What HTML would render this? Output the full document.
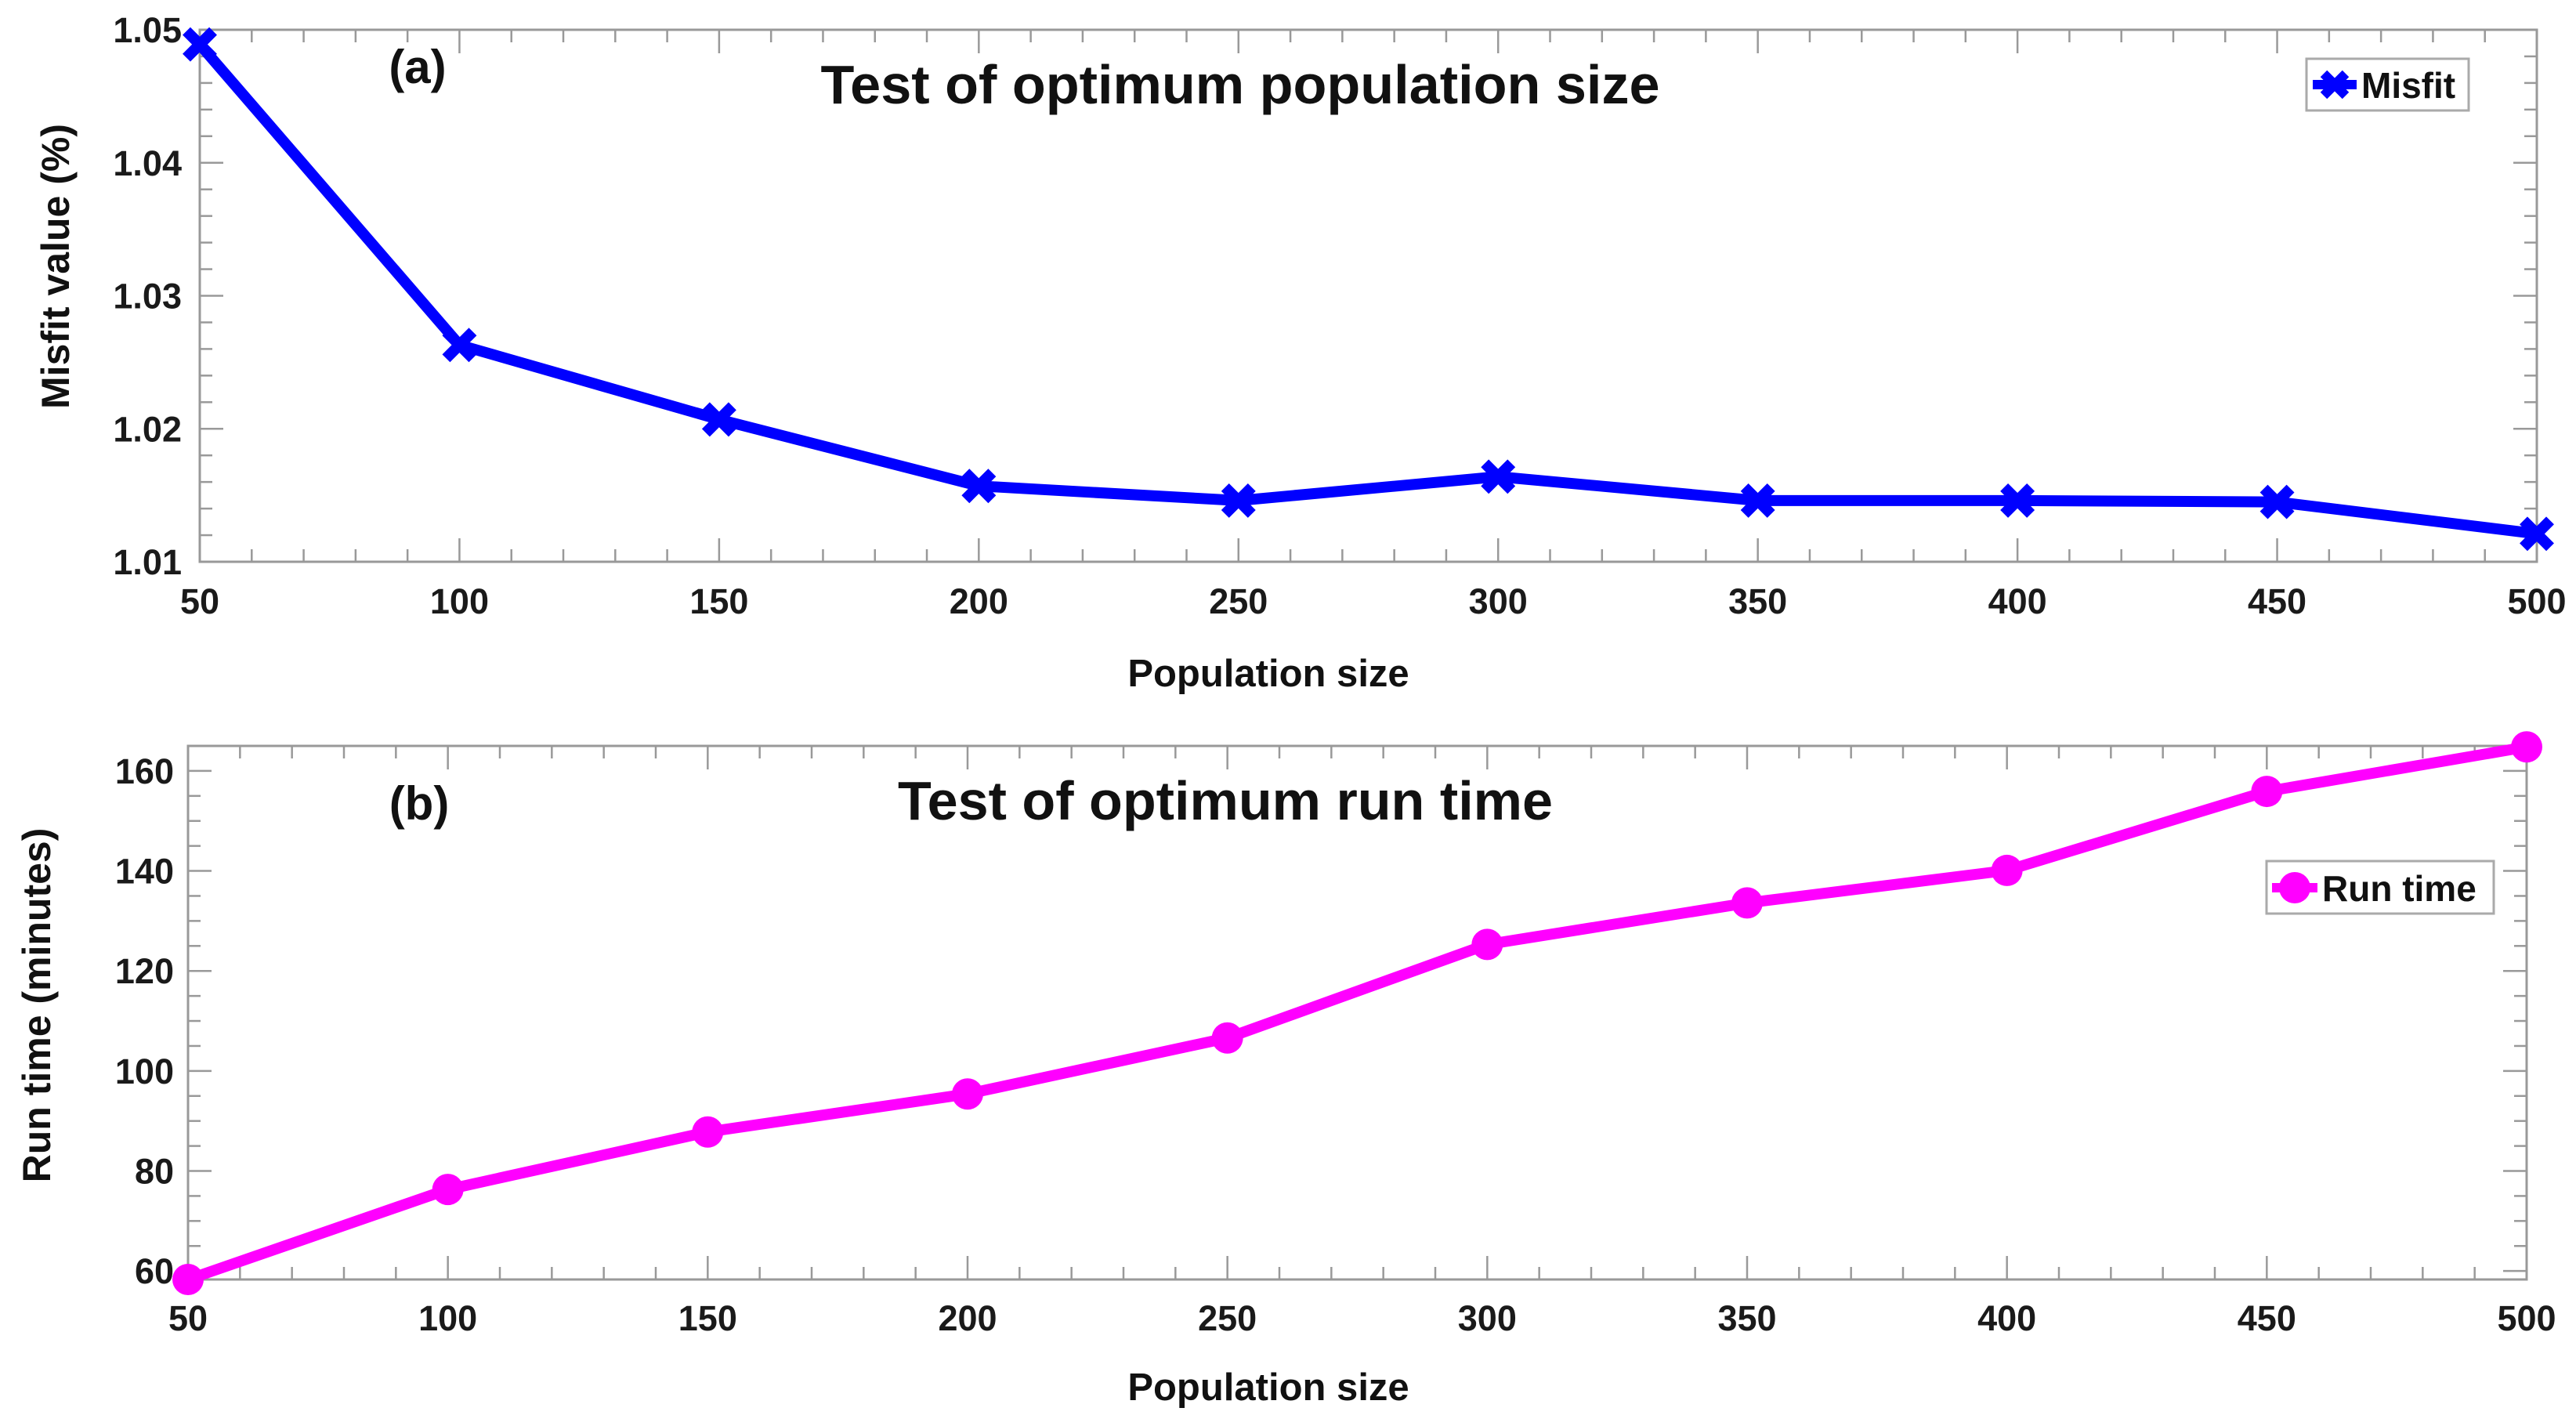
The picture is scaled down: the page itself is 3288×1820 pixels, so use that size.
<!DOCTYPE html>
<html><head><meta charset="utf-8"><style>
html,body{margin:0;padding:0;background:#fff;}
svg{display:block;font-family:"Liberation Sans",Arial,sans-serif;font-weight:bold;}
</style></head><body>
<svg id="fig" width="3288" height="1820" viewBox="0 0 3288 1820">
<g id="pa"></g>
<g id="pb"></g>
</svg>
<script>
const xCats = [50,100,150,200,250,300,350,400,450,500];
const misfitValues = [1.0489,1.0263,1.0207,1.0157,1.0146,1.0164,1.0146,1.0146,1.0145,1.0121];
const runTimeValues = [58.3,76.3,87.8,95.4,106.6,125.3,133.6,140.1,155.9,164.8];
const xTickLabels = ["50","100","150","200","250","300","350","400","450","500"];
const misfitTickLabels = ["1.01","1.02","1.03","1.04","1.05"];
const runTickLabels = ["60","80","100","120","140","160"];

const NS="http://www.w3.org/2000/svg";
function mk(parent,tag,attrs,text){const e=document.createElementNS(NS,tag);for(const k in attrs)e.setAttribute(k,attrs[k]);if(text!==undefined)e.textContent=text;parent.appendChild(e);return e;}

function panel(g, cfg){
  const {L,R,T,B,ymin,ymax,yTicks,yLabels,yMinorStep,vals,color,marker} = cfg;
  const xs = v => L + (v-50)/(500-50)*(R-L);
  const ys = v => B - (v-ymin)/(ymax-ymin)*(B-T);
  const ax = mk(g,'g',{});
  
  
  mk(ax,'rect',{x:L,y:T,width:R-L,height:B-T,fill:'none',stroke:'#999','stroke-width':3});
  for(let v=50;v<=500;v+=10){
    const major=(v%50===0); const len=major?30:16; const x=xs(v);
    mk(ax,'line',{x1:x,y1:B,x2:x,y2:B-len,stroke:'#999','stroke-width':2.5});
    mk(ax,'line',{x1:x,y1:T,x2:x,y2:T+len,stroke:'#999','stroke-width':2.5});
  }
  const y0=Math.ceil(ymin/yMinorStep-1e-6)*yMinorStep;
  for(let v=y0; v<=ymax+1e-9; v+=yMinorStep){
    const y=ys(v);
    const major=yTicks.some(t=>Math.abs(t-v)<yMinorStep/10); const len=major?30:16;
    mk(ax,'line',{x1:L,y1:y,x2:L+len,y2:y,stroke:'#999','stroke-width':2.5});
    mk(ax,'line',{x1:R,y1:y,x2:R-len,y2:y,stroke:'#999','stroke-width':2.5});
  }
  xTickLabels.forEach((s,i)=>{
    const t=mk(g,'text',{x:xs(xCats[i]),y:cfg.xLabY,'text-anchor':'middle','font-size':45,fill:'#1a1a1a'},s);
    
    
  });
  yLabels.forEach((s,i)=>{
    const t=mk(g,'text',{x:cfg.yLabX,y:ys(yTicks[i])+16,'text-anchor':'end','font-size':45,fill:'#1a1a1a'},s);
    
    
  });
  const pts = vals.map((v,i)=>xs(xCats[i])+','+ys(v)).join(' ');
  const pl = mk(g,'polyline',{points:pts,fill:'none',stroke:color,'stroke-width':14,'stroke-linejoin':'round'});
  
  
  vals.forEach((v,i)=>{
    const x=xs(xCats[i]), y=ys(v);
    let m;
    if(marker==='x'){
      m=mk(g,'path',{d:`M${x-17},${y-17}L${x+17},${y+17}M${x-17},${y+17}L${x+17},${y-17}`,stroke:color,'stroke-width':14,fill:'none'});
    } else {
      m=mk(g,'circle',{cx:x,cy:y,r:20,fill:color});
    }
    
    
  });
  return {xs,ys};
}

const ga=document.getElementById('pa');
panel(ga,{L:255,R:3238,T:38,B:717,ymin:1.01,ymax:1.05,yTicks:[1.01,1.02,1.03,1.04,1.05],yLabels:misfitTickLabels,yMinorStep:0.002,vals:misfitValues,color:'#0000ff',marker:'x',xLabY:783,yLabX:232});
const gb=document.getElementById('pb');
panel(gb,{L:240,R:3225,T:952,B:1633,ymin:58.3,ymax:165,yTicks:[60,80,100,120,140,160],yLabels:runTickLabels,yMinorStep:5,vals:runTimeValues,color:'#ff00ff',marker:'o',xLabY:1698,yLabX:222});
</script>
<div style="position:absolute;left:0;top:0;width:3288px;height:1820px;pointer-events:none">
<svg width="3288" height="1820" style="font-family:'Liberation Sans',Arial,sans-serif;font-weight:bold">
<text x="533" y="106" text-anchor="middle" font-size="60" fill="#111">(a)</text>
<text x="1583" y="132" text-anchor="middle" font-size="70" textLength="1071" lengthAdjust="spacingAndGlyphs" fill="#111">Test of optimum population size</text>
<text x="1619" y="876" text-anchor="middle" font-size="49" fill="#111">Population size</text>
<text transform="translate(88,340) rotate(-90)" text-anchor="middle" font-size="50" fill="#111">Misfit value (%)</text>
<g>
<rect x="2944" y="75" width="207" height="66" fill="#fff" stroke="#aaa" stroke-width="3"/>
<line x1="2952" y1="108" x2="3008" y2="108" stroke="#0000ff" stroke-width="12"/>
<path d="M2966,94L2994,122M2966,122L2994,94" stroke="#0000ff" stroke-width="12"/>
<text x="3014" y="125" font-size="46" fill="#111">Misfit</text>
</g>
<text x="535" y="1046" text-anchor="middle" font-size="60" fill="#111">(b)</text>
<text x="1564" y="1046" text-anchor="middle" font-size="70" textLength="836" lengthAdjust="spacingAndGlyphs" fill="#111">Test of optimum run time</text>
<text x="1619" y="1787" text-anchor="middle" font-size="49" fill="#111">Population size</text>
<text transform="translate(64,1283) rotate(-90)" text-anchor="middle" font-size="50" fill="#111">Run time (minutes)</text>
<g>
<rect x="2893" y="1099" width="290" height="67" fill="#fff" stroke="#aaa" stroke-width="3"/>
<line x1="2900" y1="1133" x2="2958" y2="1133" stroke="#ff00ff" stroke-width="12"/>
<circle cx="2929" cy="1133" r="20" fill="#ff00ff"/>
<text x="2964" y="1150" font-size="46" fill="#111">Run time</text>
</g>
</svg></div>
</body></html>
